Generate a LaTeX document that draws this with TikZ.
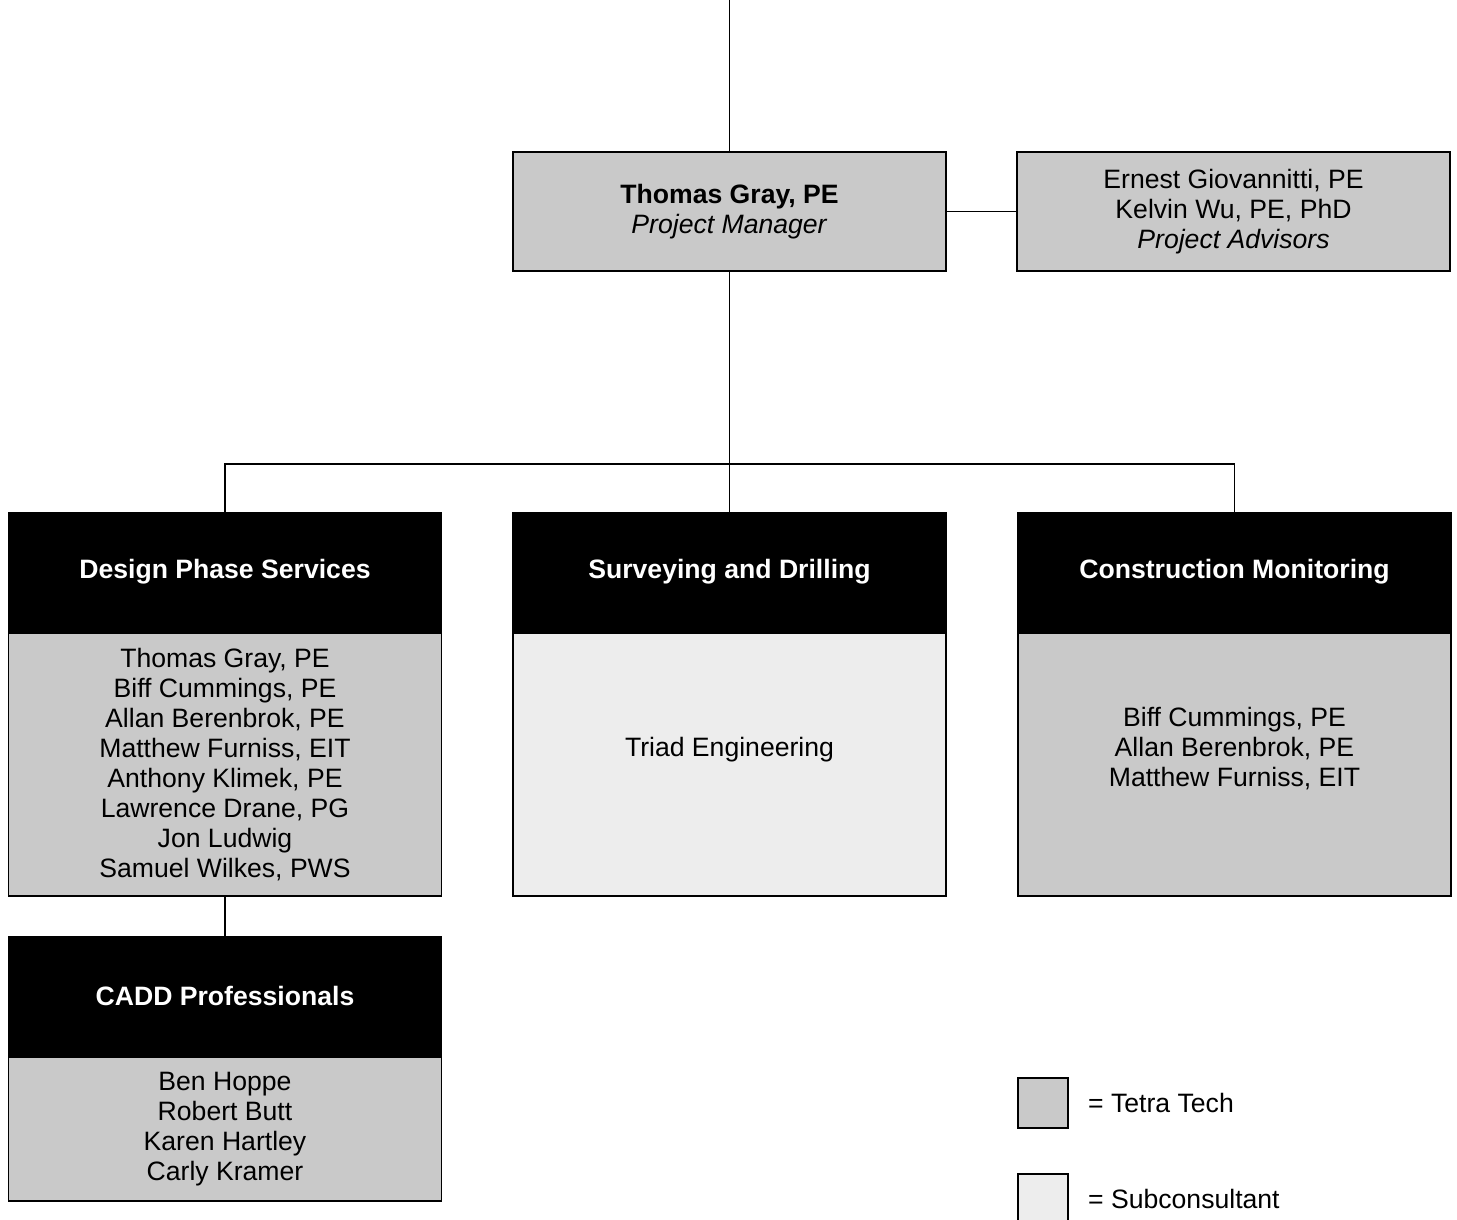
\documentclass[tikz,border=0pt]{standalone}
\usepackage{fontspec}
\setmainfont{Liberation Sans}
\usetikzlibrary{positioning}
\definecolor{tetra}{gray}{0.79}
\definecolor{subcons}{gray}{0.93}

\begin{document}
\begin{tikzpicture}[x=0.5pt, y=-0.5pt, line width=0.75pt,
          font=\fontsize{13.3}{15}\selectfont,
          staff/.style={rectangle, draw, fill=tetra, align=center,
            minimum width=216.5pt, minimum height=59.5pt, inner sep=0pt},
          head/.style={staff, fill=black, text=white, font=\fontsize{13.3}{15}\selectfont\bfseries},
          crew/.style={staff, minimum height=131.5pt},
          key/.style={rectangle, draw, minimum width=25pt, minimum height=25pt, inner sep=0pt}]

          \useasboundingbox (0,0) rectangle (1457,1220);

          \coordinate (top) at (729.5,0);
          \coordinate (bus) at (729.5,464);

          \node[staff] (pm) at (729.5,211.5) {\textbf{Thomas Gray, PE}\\\textit{Project Manager}};
          \node[staff] (adv) at (1233.5,211.5) {Ernest Giovannitti, PE\\Kelvin Wu, PE, PhD\\\textit{Project Advisors}};

          \node[head] (h1) at (225,572) {Design Phase Services};
          \node[head] (h2) at (729.5,572) {Surveying and Drilling};
          \node[head] (h3) at (1234.5,572) {Construction Monitoring};

          \node[crew, below=0pt of h1] (b1) {Thomas Gray, PE\\Biff Cummings, PE\\Allan Berenbrok, PE\\Matthew Furniss, EIT\\Anthony Klimek, PE\\Lawrence Drane, PG\\Jon Ludwig\\Samuel Wilkes, PWS};
          \node[crew, fill=subcons, below=0pt of h2] (b2) {};
          \node[crew, below=0pt of h3] (b3) {};
          \node (t2) at (729.5,750) {Triad Engineering};
          \node[align=center] (t3) at (1234.5,749) {Biff Cummings, PE\\Allan Berenbrok, PE\\Matthew Furniss, EIT};

          \node[head] (h4) at (225,996) {CADD Professionals};
          \node[staff, minimum height=72pt, below=0pt of h4] (b4) {Ben Hoppe\\Robert Butt\\Karen Hartley\\Carly Kramer};

          % legend
          \node[key, fill=tetra] (k1) at (1043,1103) {};
          \node[key, fill=subcons] (k2) at (1043,1199) {};
          \node[right=6pt of k1] (l1) {= Tetra Tech};
          \node[right=6pt of k2] (l2) {= Subconsultant};

          \draw (top) -- (pm);
          \draw (pm) -- (adv);
          \draw (pm.south) -- (h2.north);
          \draw (h1.north) |- (bus) -| (h3.north);
          \draw (b1.south) -- (h4.north);
        \end{tikzpicture}
\end{document}
